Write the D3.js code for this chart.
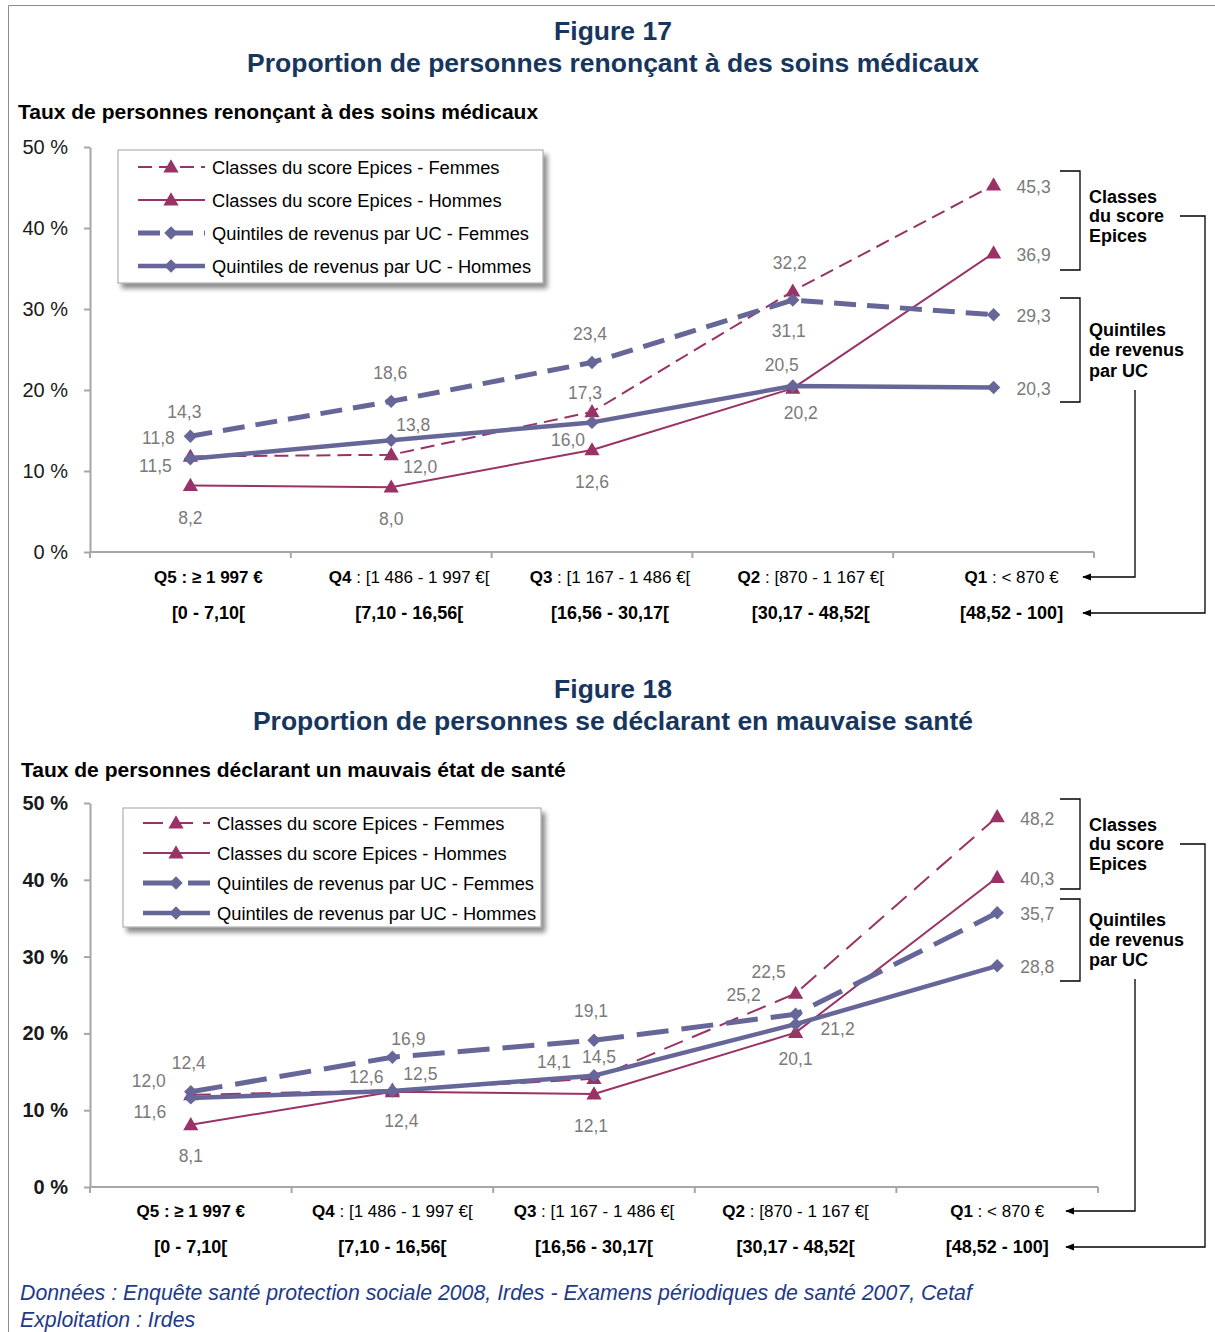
<!DOCTYPE html>
<html lang="fr">
<head>
<meta charset="utf-8">
<script src="https://cdn.jsdelivr.net/npm/d3@7"></script>
<style>
  html, body { margin: 0; padding: 0; background: #fff; }
  svg { display: block; font-family: "Liberation Sans", Arial, sans-serif; }
</style>
</head>
<body>
<svg id="chart" width="1215" height="1332"></svg>
<script>
// ---- Categories and axis texts ----
const categories = ["Q5", "Q4", "Q3", "Q2", "Q1"];
const quintileCodes = ["Q5", "Q4", "Q3", "Q2", "Q1"];
const quintileRanges = [" : ≥ 1 997 €", " : [1 486 - 1 997 €[", " : [1 167 - 1 486 €[", " : [870 - 1 167 €[", " : < 870 €"];
const epicesRanges = ["[0 - 7,10[", "[7,10 - 16,56[", "[16,56 - 30,17[", "[30,17 - 48,52[", "[48,52 - 100]"];
const yTicks = [0, 10, 20, 30, 40, 50];

const seriesNames = [
  "Classes du score Epices - Femmes",
  "Classes du score Epices - Hommes",
  "Quintiles de revenus par UC - Femmes",
  "Quintiles de revenus par UC - Hommes"
];

// ---- Figure 17 : renoncement aux soins (%) ----
const renoncementEpicesFemmes    = [11.8, 12.0, 17.3, 32.2, 45.3];
const renoncementEpicesHommes    = [8.2, 8.0, 12.6, 20.2, 36.9];
const renoncementQuintilesFemmes = [14.3, 18.6, 23.4, 31.1, 29.3];
const renoncementQuintilesHommes = [11.5, 13.8, 16.0, 20.5, 20.3];

// ---- Figure 18 : mauvaise santé déclarée (%) ----
const santeEpicesFemmes    = [12.0, 12.6, 14.1, 25.2, 48.2];
const santeEpicesHommes    = [8.1, 12.4, 12.1, 20.1, 40.3];
const santeQuintilesFemmes = [12.4, 16.9, 19.1, 22.5, 35.7];
const santeQuintilesHommes = [11.6, 12.5, 14.5, 21.2, 28.8];

// ---- Styles ----
const PLUM = "#993366";
const SLATE = "#666699";
const NAVY = "#17365D";
const LABEL_GREY = "#7a7a7a";
const AXIS_GREY = "#a6a6a6";

const fmt = v => d3.format(".1f")(v).replace(".", ",");

const svg = d3.select("#chart");

const defs = svg.append("defs");
const shadow = defs.append("filter").attr("id", "legendShadow")
  .attr("x", "-10%").attr("y", "-10%").attr("width", "125%").attr("height", "135%");
shadow.append("feDropShadow").attr("dx", 4).attr("dy", 5)
  .attr("stdDeviation", 2.5).attr("flood-color", "#000").attr("flood-opacity", 0.45);

const arrow = defs.append("marker").attr("id", "arrowHead")
  .attr("viewBox", "0 0 10 10").attr("refX", 9).attr("refY", 5)
  .attr("markerWidth", 9).attr("markerHeight", 9).attr("orient", "auto-start-reverse")
  .attr("markerUnits", "userSpaceOnUse");
arrow.append("path").attr("d", "M0,1 L10,5 L0,9 Z").attr("fill", "#000");

// page frame
svg.append("rect").attr("x", 0).attr("y", 0).attr("width", 1215).attr("height", 1332).attr("fill", "#fff");
svg.append("path").attr("d", "M8.5,1332 V5.5 H1215").attr("fill", "none").attr("stroke", "#8c8c8c").attr("stroke-width", 1);

function seriesStyles(f) {
  return [
    { color: PLUM, width: 2, dash: f.dashEF, marker: "triangle" },
    { color: PLUM, width: 2, dash: null, marker: "triangle" },
    { color: SLATE, width: 5, dash: f.dashQF, marker: "diamond" },
    { color: SLATE, width: 4.5, dash: null, marker: "diamond" }
  ];
}

const triPath = d3.symbol().type(d3.symbolTriangle).size(100)();
const diaPath = d3.symbol().type(d3.symbolSquare).size(90)();

function drawMarker(g, kind, x, y, color) {
  if (kind === "triangle") {
    g.append("path").attr("d", triPath)
      .attr("transform", `translate(${x},${y + 1})`).attr("fill", color);
  } else {
    g.append("path").attr("d", diaPath)
      .attr("transform", `translate(${x},${y}) rotate(45)`).attr("fill", color);
  }
}

function drawFigure(f) {
  const g = svg.append("g");

  // titles
  g.append("text").attr("x", 613).attr("y", f.titleY).attr("text-anchor", "middle")
    .attr("font-size", 26.5).attr("font-weight", "bold").attr("fill", NAVY).text(f.number);
  g.append("text").attr("x", 613).attr("y", f.titleY + 32).attr("text-anchor", "middle")
    .attr("font-size", 26.5).attr("font-weight", "bold").attr("fill", NAVY).text(f.title);
  g.append("text").attr("x", f.subX).attr("y", f.subY)
    .attr("font-size", 21).attr("font-weight", "bold").attr("fill", "#000").text(f.subtitle);

  const x = d3.scaleBand().domain(categories).range([f.x0, f.x1]).padding(0);
  const y = d3.scaleLinear().domain([0, 50]).range([f.yBottom, f.yTop]);
  const cx = c => x(c) + x.bandwidth() / 2;

  // y axis
  const yAxis = g.append("g").attr("transform", `translate(${f.x0},0)`)
    .call(d3.axisLeft(y).tickValues(yTicks).tickFormat(d => d + " %").tickSize(6).tickPadding(16).tickSizeOuter(0));
  yAxis.select(".domain").attr("stroke", AXIS_GREY).attr("stroke-width", 2);
  yAxis.selectAll(".tick line").attr("stroke", AXIS_GREY).attr("stroke-width", 2);
  yAxis.selectAll(".tick text").attr("fill", "#1a1a1a").attr("font-size", 20)
    .attr("font-weight", f.yBold ? "bold" : "normal")
    .attr("font-family", "'Liberation Sans', Arial, sans-serif");

  // x axis: ticks on category boundaries
  const bounds = categories.map(c => x(c)).concat([x(categories[categories.length - 1]) + x.bandwidth()]);
  g.append("line").attr("x1", f.x0).attr("x2", f.x1).attr("y1", f.yBottom).attr("y2", f.yBottom)
    .attr("stroke", AXIS_GREY).attr("stroke-width", 2);
  g.selectAll(null).data(bounds).join("line")
    .attr("x1", d => d).attr("x2", d => d).attr("y1", f.yBottom).attr("y2", f.yBottom + 6)
    .attr("stroke", AXIS_GREY).attr("stroke-width", 2);

  // category labels (two rows)
  categories.forEach((c, i) => {
    const t = g.append("text").attr("x", cx(c) + f.labelShift).attr("y", f.row1Y)
      .attr("text-anchor", "middle").attr("font-size", 17).attr("fill", "#000");
    t.append("tspan").attr("font-weight", "bold").text(quintileCodes[i]);
    t.append("tspan").attr("font-weight", i === 0 ? "bold" : "normal").text(quintileRanges[i]);
    g.append("text").attr("x", cx(c) + f.labelShift2).attr("y", f.row2Y)
      .attr("text-anchor", "middle").attr("font-size", 18).attr("font-weight", "bold").attr("fill", "#000")
      .text(epicesRanges[i]);
  });

  // series lines, markers and value labels
  const styles = seriesStyles(f);
  f.series.forEach((vals, si) => {
    const st = styles[si];
    const pts = vals.map((v, i) => [cx(categories[i]), y(v)]);
    g.append("path").attr("d", d3.line()(pts)).attr("fill", "none")
      .attr("stroke", st.color).attr("stroke-width", st.width)
      .attr("stroke-dasharray", st.dash).attr("stroke-linejoin", "round");
    pts.forEach(p => drawMarker(g, st.marker, p[0], p[1], st.color));
  });
  f.series.forEach((vals, si) => {
    vals.forEach((v, i) => {
      const off = f.labelOffsets[si][i];
      g.append("text").attr("x", cx(categories[i]) + off[0]).attr("y", y(v) + off[1])
        .attr("text-anchor", "middle").attr("dominant-baseline", "central")
        .attr("font-size", 17.5).attr("fill", LABEL_GREY).text(fmt(v));
    });
  });

  // legend
  const L = f.legend;
  g.append("rect").attr("x", L.x).attr("y", L.y).attr("width", L.w).attr("height", L.h)
    .attr("fill", "#fff").attr("stroke", "#a0a0a0").attr("stroke-width", 1)
    .attr("filter", "url(#legendShadow)");
  seriesNames.forEach((name, si) => {
    const st = styles[si];
    const ry = L.rows[si];
    g.append("line").attr("x1", L.x + 20).attr("x2", L.x + 87).attr("y1", ry).attr("y2", ry)
      .attr("stroke", st.color).attr("stroke-width", st.width).attr("stroke-dasharray", st.dash);
    drawMarker(g, st.marker, L.x + 53, ry, st.color);
    g.append("text").attr("x", L.x + 94).attr("y", ry).attr("dominant-baseline", "central")
      .attr("font-size", 18.3).attr("fill", "#000").text(name);
  });

  // side brackets
  const B = f.brackets;
  const bracket = (top, bottom) => g.append("path")
    .attr("d", `M${B.x - 20},${top} H${B.x} V${bottom} H${B.x - 20}`)
    .attr("fill", "none").attr("stroke", "#000").attr("stroke-width", 1.3);
  bracket(B.epices[0], B.epices[1]);
  bracket(B.quint[0], B.quint[1]);
  const words = (lines, ys) => lines.forEach((l, k) => g.append("text")
    .attr("x", B.x + 9).attr("y", ys[k]).attr("dominant-baseline", "central")
    .attr("font-size", 18).attr("font-weight", "bold").attr("fill", "#000").text(l));
  words(["Classes", "du score", "Epices"], B.epicesText);
  words(["Quintiles", "de revenus", "par UC"], B.quintText);

  // connectors to the x labels
  g.append("path").attr("d", `M1180,${B.epicesText[1]} H1205 V${f.row2Y - 6} H${B.arrowX}`)
    .attr("fill", "none").attr("stroke", "#000").attr("stroke-width", 1.3).attr("marker-end", "url(#arrowHead)");
  g.append("path").attr("d", `M1135,${B.quintText[2] + 19} V${f.row1Y - 6} H${B.arrowX}`)
    .attr("fill", "none").attr("stroke", "#000").attr("stroke-width", 1.3).attr("marker-end", "url(#arrowHead)");
}

drawFigure({
  number: "Figure 17",
  title: "Proportion de personnes renonçant à des soins médicaux",
  subtitle: "Taux de personnes renonçant à des soins médicaux",
  titleY: 40, subX: 18, subY: 119,
  x0: 90, x1: 1094, yBottom: 552, yTop: 147, yBold: false,
  row1Y: 583, row2Y: 619, labelShift: 18, labelShift2: 18,
  dashEF: "14,7", dashQF: "22,11",
  series: [renoncementEpicesFemmes, renoncementEpicesHommes, renoncementQuintilesFemmes, renoncementQuintilesHommes],
  labelOffsets: [
    [[-32, -18], [29, 12], [-7, -19], [-3, -28], [40, 2]],
    [[0, 32], [0, 32], [0, 32], [8, 25], [40, 2]],
    [[-6, -24], [-1, -28], [-2, -28], [-4, 31], [40, 1]],
    [[-35, 7], [22, -15], [-24, 18], [-11, -21], [40, 1]]
  ],
  legend: { x: 118, y: 150, w: 425, h: 133, rows: [167, 200, 233, 266] },
  brackets: { x: 1080, epices: [171, 270], quint: [298, 402],
    epicesText: [197, 216, 236], quintText: [330, 350, 371], arrowX: 1083 }
});

drawFigure({
  number: "Figure 18",
  title: "Proportion de personnes se déclarant en mauvaise santé",
  subtitle: "Taux de personnes déclarant un mauvais état de santé",
  titleY: 698, subX: 21, subY: 777,
  x0: 90, x1: 1098, yBottom: 1187, yTop: 803, yBold: true,
  row1Y: 1217, row2Y: 1253, labelShift: 0, labelShift2: 0,
  dashEF: "20,10", dashQF: "32,13",
  series: [santeEpicesFemmes, santeEpicesHommes, santeQuintilesFemmes, santeQuintilesHommes],
  labelOffsets: [
    [[-42, -14], [-26, -13], [-40, -17], [-52, 2], [40, 2]],
    [[0, 31], [9, 29], [-3, 32], [0, 26], [40, 2]],
    [[-2, -29], [16, -18], [-3, -29], [-27, -42], [40, 1]],
    [[-41, 14], [28, -17], [5, -19], [42, 5], [40, 1]]
  ],
  legend: { x: 123, y: 808, w: 418, h: 119, rows: [823, 853, 883, 913] },
  brackets: { x: 1080, epices: [799, 889], quint: [899, 981],
    epicesText: [825, 844, 864], quintText: [920, 940, 960], arrowX: 1066 }
});

// sources
const foot = svg.append("g").attr("font-style", "italic").attr("font-size", 21.3).attr("fill", "#1F3A8A");
foot.append("text").attr("x", 20).attr("y", 1300)
  .text("Données : Enquête santé protection sociale 2008, Irdes - Examens périodiques de santé 2007, Cetaf");
foot.append("text").attr("x", 20).attr("y", 1327).text("Exploitation : Irdes");
</script>
</body>
</html>
